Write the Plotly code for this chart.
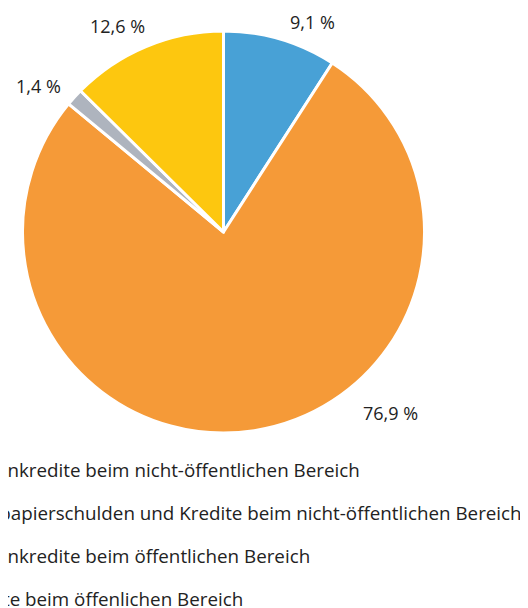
import plotly.graph_objects as go

labels = [
    "Kassenkredite beim nicht-öffentlichen Bereich",
    "Wertpapierschulden und Kredite beim nicht-öffentlichen Bereich",
    "Kassenkredite beim öffentlichen Bereich",
    "Kredite beim öffenlichen Bereich",
]
values = [9.1, 76.9, 1.4, 12.6]
colors = ["#48A1D6", "#F59A38", "#AEB4BE", "#FDC70F"]

W, H = 528, 608
cx, cy, r = 215.5, 224, 201

# label positions (figure pixels) for the value labels
label_pos = [(304.5, 14), (382, 405), (30, 78), (109, 18)]

fig = go.Figure()
fig.add_trace(go.Pie(
    labels=labels, values=values, sort=False, direction="clockwise", rotation=0,
    marker=dict(colors=colors, line=dict(color="white", width=3)),
    textinfo="none", showlegend=False, hoverinfo="label+value",
    domain=dict(x=[(cx - r) / W, (cx + r) / W], y=[(H - cy - r) / H, (H - cy + r) / H]),
))
for lab, col in zip(labels, colors):
    fig.add_trace(go.Scatter(x=[None], y=[None], mode="markers", name=lab,
                             legendgroup=lab,
                             marker=dict(symbol="square", size=14, color=col)))

annotations = []
for v, (px, py) in zip(values, label_pos):
    annotations.append(dict(
        text=f"{v:.1f} %".replace(".", ","), x=px / W, y=(H - py) / H,
        xref="paper", yref="paper", xanchor="center", yanchor="middle",
        showarrow=False, font=dict(size=18, color="#222222", family="Open Sans"),
    ))

fig.update_layout(
    width=W, height=H, separators=", ",
    margin=dict(l=0, r=0, t=0, b=0, autoexpand=False),
    paper_bgcolor="white", plot_bgcolor="white",
    font=dict(family="Open Sans", size=18.8, color="#222222"),
    xaxis=dict(visible=False), yaxis=dict(visible=False),
    annotations=annotations,
    legend=dict(x=-91 / W, xanchor="left", y=(H - 443) / H, yanchor="top",
                tracegroupgap=15.7, traceorder="grouped",
                font=dict(size=18.8, color="#222222", family="Open Sans"),
                bgcolor="rgba(0,0,0,0)"),
)
fig.write_html("out.html")
